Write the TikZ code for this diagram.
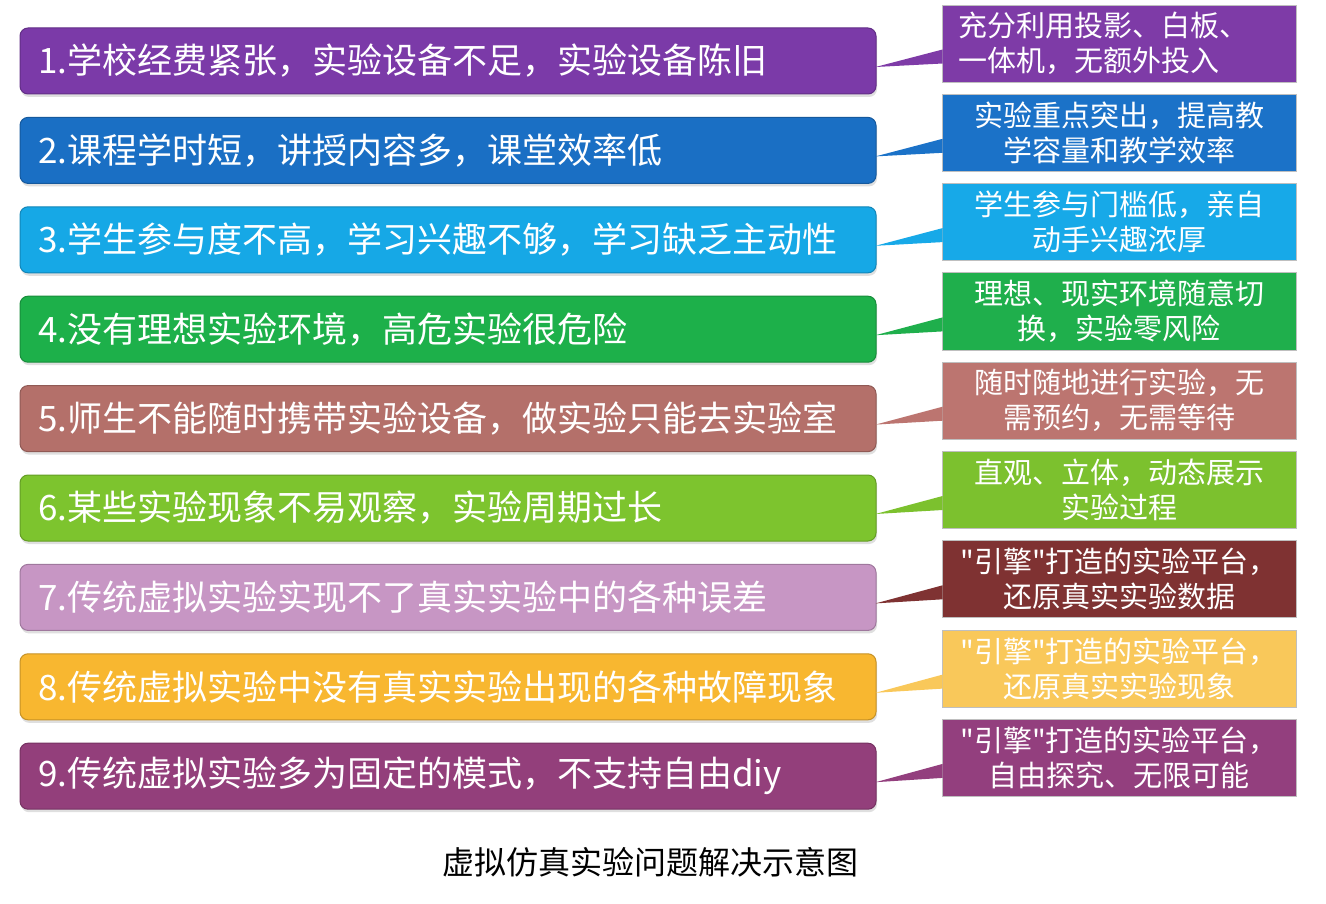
\documentclass[tikz,border=0pt]{standalone}
\usepackage{fontspec}
\setmainfont{Noto Sans CJK SC}
\newfontfamily\quotefont{Noto Sans CJK SC}
\newcommand\dq{{\quotefont"}}
\usetikzlibrary{positioning,calc,shadows}

\definecolor{prob1}{HTML}{7B3AA8}
\definecolor{prob2}{HTML}{1A6FC4}
\definecolor{prob3}{HTML}{16A8E6}
\definecolor{prob4}{HTML}{1DB04A}
\definecolor{prob5}{HTML}{B4706A}
\definecolor{prob6}{HTML}{7DC42E}
\definecolor{prob7}{HTML}{C796C4}
\definecolor{prob8}{HTML}{F8B730}
\definecolor{prob9}{HTML}{933F7B}

\definecolor{sol1}{HTML}{7E3BA7}
\definecolor{sol2}{HTML}{1B72C8}
\definecolor{sol3}{HTML}{17A9E8}
\definecolor{sol4}{HTML}{1FAF4C}
\definecolor{sol5}{HTML}{BC7570}
\definecolor{sol6}{HTML}{7CC12E}
\definecolor{sol7}{HTML}{7F3232}
\definecolor{sol8}{HTML}{F9C85A}
\definecolor{sol9}{HTML}{933F7E}

\tikzset{
  probbox/.style={rectangle, rounded corners=8pt, fill=#1, draw=#1!80!black,
    line width=1pt, text=white, minimum height=66pt, inner xsep=18pt,
    inner ysep=0pt, text width=820pt, align=left,
    font=\fontsize{35}{42}\selectfont,
    drop shadow={shadow xshift=1pt, shadow yshift=-3pt, opacity=.25}},
  solbox/.style={rectangle, fill=#1, draw=black!25, line width=0.8pt,
    text=white, minimum height=77pt, inner xsep=7pt, inner ysep=0pt,
    text width=340pt, align=center, font=\fontsize{29}{35}\selectfont},
  tail/.style={fill=#1}
}

\begin{document}
\begin{tikzpicture}[x=1pt,y=-1pt]
\useasboundingbox[fill=white] (0,0) rectangle (1326,904);

% problems
\node[probbox=prob1] (p1) at (448,61) {1.学校经费紧张，实验设备不足，实验设备陈旧};
\node[probbox=prob2, below=22.4pt of p1] (p2) {2.课程学时短，讲授内容多，课堂效率低};
\node[probbox=prob3, below=22.4pt of p2] (p3) {3.学生参与度不高，学习兴趣不够，学习缺乏主动性};
\node[probbox=prob4, below=22.4pt of p3] (p4) {4.没有理想实验环境，高危实验很危险};
\node[probbox=prob5, below=22.4pt of p4] (p5) {5.师生不能随时携带实验设备，做实验只能去实验室};
\node[probbox=prob6, below=22.4pt of p5] (p6) {6.某些实验现象不易观察，实验周期过长};
\node[probbox=prob7, below=22.4pt of p6] (p7) {7.传统虚拟实验实现不了真实实验中的各种误差};
\node[probbox=prob8, below=22.4pt of p7] (p8) {8.传统虚拟实验中没有真实实验出现的各种故障现象};
\node[probbox=prob9, below=22.4pt of p8] (p9) {9.传统虚拟实验多为固定的模式，不支持自由diy};

% solutions
\node[solbox=sol1, align=left, inner xsep=16pt, text width=322pt] (s1) at (1119,43.5) {充分利用投影、白板、\\一体机，无额外投入};
\node[solbox=sol2, below=11.5pt of s1] (s2) {实验重点突出，提高教\\学容量和教学效率};
\node[solbox=sol3, below=11.5pt of s2] (s3) {学生参与门槛低，亲自\\动手兴趣浓厚};
\node[solbox=sol4, below=11.5pt of s3] (s4) {理想、现实环境随意切\\换，实验零风险};
\node[solbox=sol5, below=11.5pt of s4] (s5) {随时随地进行实验，无\\需预约，无需等待};
\node[solbox=sol6, below=11.5pt of s5] (s6) {直观、立体，动态展示\\实验过程};
\node[solbox=sol7, below=11.5pt of s6] (s7) {\dq 引擎\dq 打造的实验平台，\\还原真实实验数据};
\node[solbox=sol8, below=11.5pt of s7] (s8) {\dq 引擎\dq 打造的实验平台，\\还原真实实验现象};
\node[solbox=sol9, below=11.5pt of s8] (s9) {\dq 引擎\dq 打造的实验平台，\\自由探究、无限可能};

% callout tails
\foreach \i in {1,...,9}
  \fill[tail=sol\i] ($(p\i.east)+(-1,6)$) -- ($(s\i.west)+(1,6)$)
    -- ($(s\i.west)+(1,20)$) -- cycle;

\node[font=\fontsize{32}{38}\selectfont, text=black] (caption) at (650,862) {虚拟仿真实验问题解决示意图};
\end{tikzpicture}
\end{document}
